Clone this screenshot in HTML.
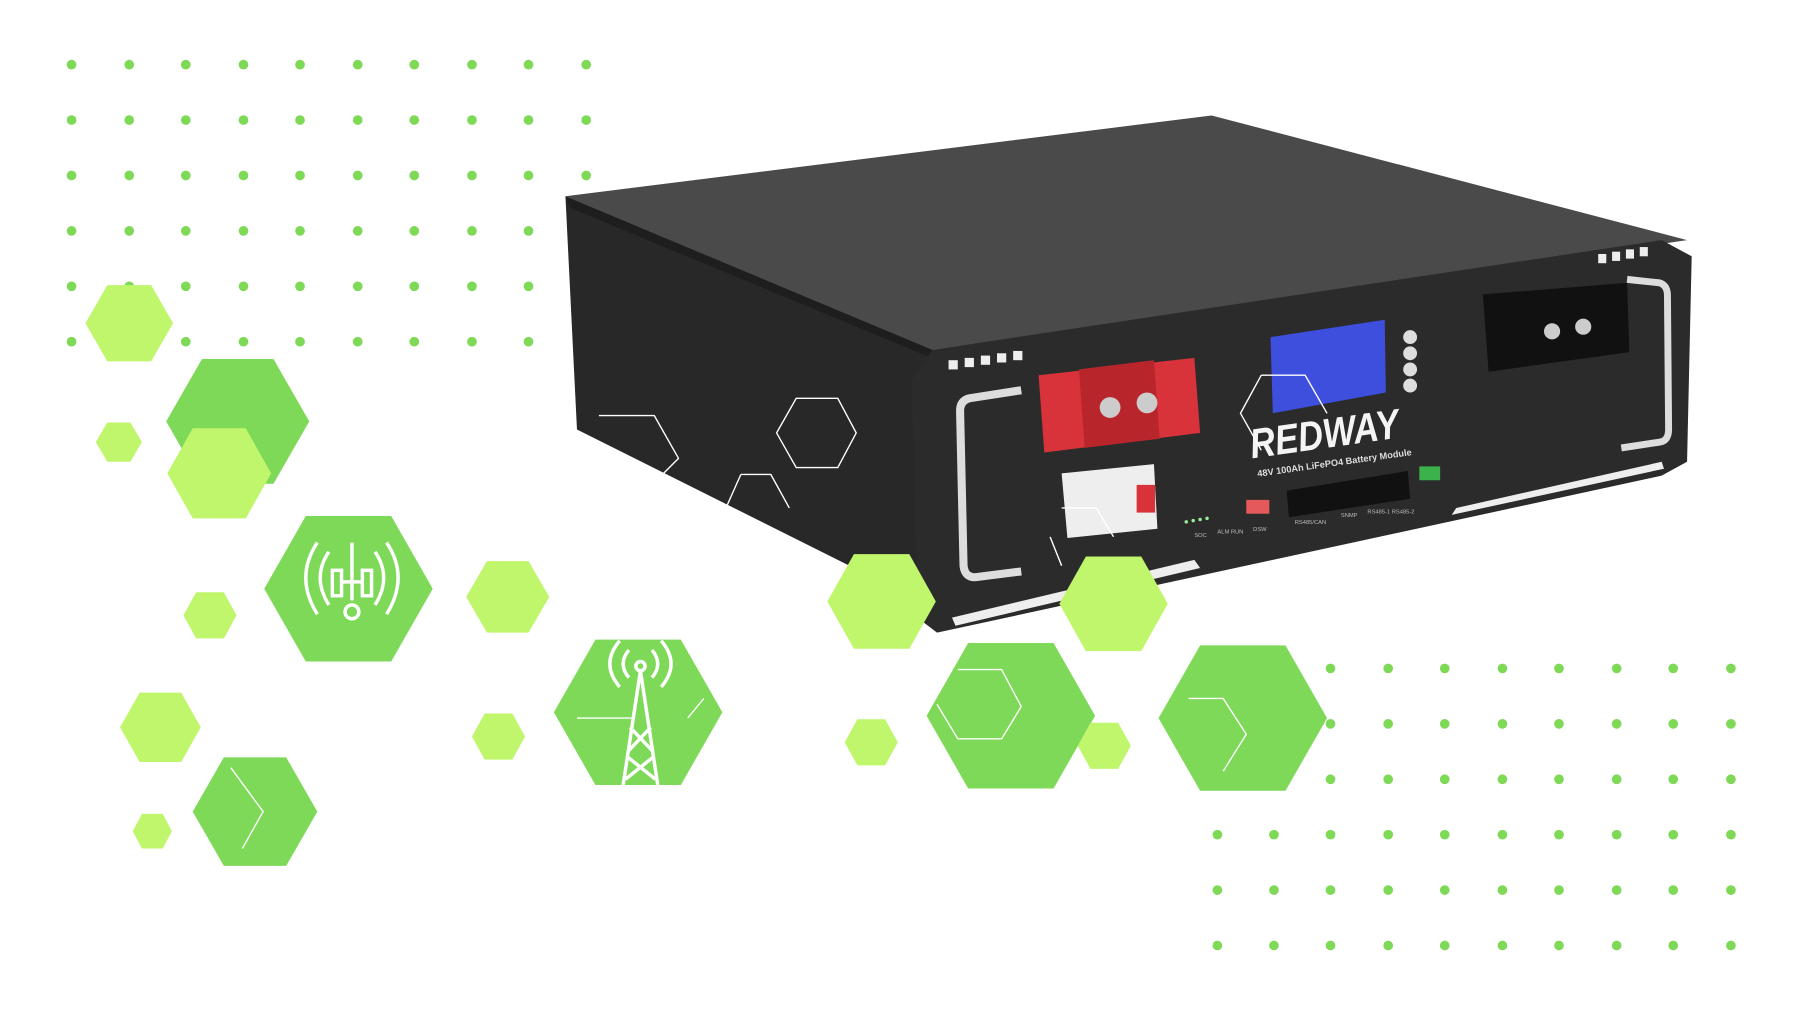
<!DOCTYPE html>
<html><head><meta charset="utf-8"><style>
html,body{margin:0;padding:0;background:#fff;width:1799px;height:1009px;overflow:hidden}
svg{display:block}
</style></head><body>
<svg width="1799" height="1009" viewBox="0 0 1559 874" preserveAspectRatio="none" xmlns="http://www.w3.org/2000/svg">
<defs>
<g id="rowL">
<circle cx="62" cy="0" r="4.2"/><circle cx="112" cy="0" r="4.2"/><circle cx="161" cy="0" r="4.2"/><circle cx="211" cy="0" r="4.2"/><circle cx="260" cy="0" r="4.2"/><circle cx="310" cy="0" r="4.2"/><circle cx="359" cy="0" r="4.2"/><circle cx="409" cy="0" r="4.2"/><circle cx="458" cy="0" r="4.2"/>
</g>
<g id="rowR">
<circle cx="1153" cy="0" r="4.2"/><circle cx="1203" cy="0" r="4.2"/><circle cx="1252" cy="0" r="4.2"/><circle cx="1302" cy="0" r="4.2"/><circle cx="1351" cy="0" r="4.2"/><circle cx="1401" cy="0" r="4.2"/><circle cx="1450" cy="0" r="4.2"/><circle cx="1500" cy="0" r="4.2"/>
</g>
</defs>
<g fill="#7ed957">
<use href="#rowL" y="56"/><use href="#rowL" y="104"/><use href="#rowL" y="152"/><use href="#rowL" y="200"/><use href="#rowL" y="248"/><use href="#rowL" y="296"/>
<circle cx="508" cy="56" r="4.2"/><circle cx="508" cy="104" r="4.2"/><circle cx="508" cy="152" r="4.2"/>
<use href="#rowR" y="579"/><use href="#rowR" y="627"/><use href="#rowR" y="675"/><use href="#rowR" y="723"/><use href="#rowR" y="771"/><use href="#rowR" y="819"/>
<circle cx="1055" cy="723" r="4.2"/><circle cx="1104" cy="723" r="4.2"/><circle cx="1055" cy="771" r="4.2"/><circle cx="1104" cy="771" r="4.2"/><circle cx="1055" cy="819" r="4.2"/><circle cx="1104" cy="819" r="4.2"/>
</g>

<!-- battery -->
<polygon points="490,170 1050,100 1462,208 808,303" fill="#4a4a4a"/>
<polygon points="490,170 808,303 800,522 500,372" fill="#282828"/>
<polygon points="490,170 808,303 812,312 494,180" fill="#1e1e1e"/>
<polygon points="808,303 1440,208 1466,222 1462,400 1440,412 812,548 795,535 790,330" fill="#2b2b2b"/>
<g fill="#eee">
<rect x="822" y="312" width="8" height="8"/>
<rect x="836" y="310" width="8" height="8"/><rect x="850" y="308" width="8" height="8"/><rect x="864" y="306" width="8" height="8"/><rect x="878" y="304" width="8" height="8"/>
<rect x="1385" y="220" width="7" height="8"/><rect x="1397" y="218" width="7" height="8"/><rect x="1409" y="216" width="7" height="8"/><rect x="1421" y="214" width="7" height="8"/>
</g>
<polygon points="825,535 1035,485 1040,492 828,542" fill="#eee"/>
<polygon points="1262,440 1440,400 1442,406 1258,446" fill="#eee"/>
<path d="M885,338 L840,345 Q832,347 832,356 L835,490 Q836,500 845,500 L885,495" fill="none" stroke="#ddd" stroke-width="7"/>
<path d="M1410,242 L1438,245 Q1445,247 1445,256 L1446,372 Q1446,382 1438,383 L1405,388" fill="none" stroke="#ddd" stroke-width="6"/>
<polygon points="900,325 1035,310 1040,375 905,392" fill="#d8333a"/>
<polygon points="935,320 1000,312 1005,380 940,388" fill="#b8262c"/>
<circle cx="962" cy="353" r="9" fill="#ccc"/><circle cx="994" cy="349" r="9" fill="#ccc"/>
<polygon points="1285,255 1410,245 1412,305 1290,322" fill="#111"/>
<circle cx="1345" cy="287" r="7" fill="#ccc"/><circle cx="1372" cy="283" r="7" fill="#ccc"/>
<polygon points="920,410 1000,402 1003,458 925,466" fill="#eee"/>
<rect x="985" y="420" width="16" height="24" fill="#d8333a"/>
<polygon points="1101,292 1200,277 1201,340 1103,358" fill="#3d4fdc"/>
<g fill="#ddd"><circle cx="1222" cy="292" r="6"/><circle cx="1222" cy="306" r="6"/><circle cx="1222" cy="320" r="6"/><circle cx="1222" cy="334" r="6"/></g>
<text x="1085" y="397" font-family="Liberation Sans,sans-serif" font-weight="bold" font-style="italic" font-size="36" fill="#f4f4f4" transform="rotate(-8 1085 397)" textLength="130" lengthAdjust="spacingAndGlyphs">REDWAY</text>
<text x="1090" y="413" font-family="Liberation Sans,sans-serif" font-weight="bold" font-size="8" fill="#ddd" transform="rotate(-8 1090 413)">48V 100Ah LiFePO4 Battery Module</text>
<polygon points="1115,425 1220,408 1222,432 1117,448" fill="#111"/>
<rect x="1230" y="404" width="18" height="12" fill="#3bb34a"/>
<rect x="1080" y="433" width="20" height="12" fill="#e45a5a"/>
<g fill="#9e9">
<circle cx="1028" cy="452" r="1.5"/><circle cx="1034" cy="451" r="1.5"/><circle cx="1040" cy="450" r="1.5"/><circle cx="1046" cy="449" r="1.5"/></g>
<g font-family="Liberation Sans,sans-serif" font-size="5" fill="#bbb">
<text x="1035" y="465">SOC</text><text x="1055" y="462">ALM RUN</text><text x="1086" y="460">DSW</text><text x="1122" y="454">RS485/CAN</text><text x="1162" y="448">SNMP</text><text x="1185" y="445">RS485-1 RS485-2</text>
</g>

<g fill="#7dd957">
<polygon points="144,365 175,311 237,311 268,365 237,419 175,419"/>
<polygon points="229,510 265,447 339,447 375,510 339,573 265,573"/>
<polygon points="480,617 516,554 590,554 626,617 590,680 516,680"/>
<polygon points="167,703 194,656 248,656 275,703 248,750 194,750"/>
<polygon points="803,620 839,557 913,557 949,620 913,683 839,683"/>
<polygon points="1004,622 1040,559 1114,559 1150,622 1114,685 1040,685"/>
</g>
<g fill="#c0f66c">
<polygon points="74,280 93,247 131,247 150,280 131,313 93,313"/>
<polygon points="145,410 167,371 213,371 235,410 213,449 167,449"/>
<polygon points="83,383 93,366 113,366 123,383 113,400 93,400"/>
<polygon points="159,533 170,513 194,513 205,533 194,553 170,553"/>
<polygon points="404,517 422,486 458,486 476,517 458,548 422,548"/>
<polygon points="104,630 121,600 157,600 174,630 157,660 121,660"/>
<polygon points="409,638 420,618 444,618 455,638 444,658 420,658"/>
<polygon points="115,720 123,705 141,705 149,720 141,735 123,735"/>
<polygon points="717,521 740,480 788,480 811,521 788,562 740,562"/>
<polygon points="918,523 941,482 989,482 1012,523 989,564 941,564"/>
<polygon points="732,643 743,623 767,623 778,643 767,663 743,663"/>
<polygon points="934,646 945,626 969,626 980,646 969,666 945,666"/>
</g>
<g stroke="#fff" stroke-width="1.2" fill="none">
<path d="M1093,325 L1131,325 L1150,358 M1093,325 L1075,358 L1093,390"/>
<path d="M519,360 L567,360 L588,397 L575,410"/>
<path d="M690,345 L726,345 L742,375 L726,405 L690,405 L673,375 Z"/>
<path d="M642,411 L668,411 L684,440 M642,411 L630,438"/>
<path d="M920,440 L950,440 L965,465 M910,465 L920,490"/>
<path d="M200,665 L228,703 L210,735"/>
<path d="M830,580 L868,580 L885,612 L868,640 L830,640 L812,610"/>
<path d="M1030,605 L1060,605 L1080,636 L1060,668"/>
<path d="M500,622 L550,622 M596,622 L610,605"/>
</g>
<g stroke="#fff" stroke-width="3" fill="none">
<path d="M285,478 Q270,500 285,524 M275,470 Q255,500 275,532 M325,478 Q340,500 325,524 M335,470 Q355,500 335,532"/>
<rect x="288" y="494" width="8" height="22"/><rect x="314" y="494" width="8" height="22"/>
<path d="M305,470 L305,520 M296,504 L314,504"/>
<circle cx="305" cy="530" r="6"/>
<path d="M545,587 Q535,575 545,563 M565,587 Q575,575 565,563 M537,595 Q520,575 537,555 M573,595 Q590,575 573,555"/>
<circle cx="555" cy="577" r="4"/>
<path d="M555,581 L540,680 M555,581 L570,680 M546,630 L565,650 M564,630 L545,650 M543,655 L568,675 M567,655 L542,675"/>
</g>
</svg>
</body></html>
